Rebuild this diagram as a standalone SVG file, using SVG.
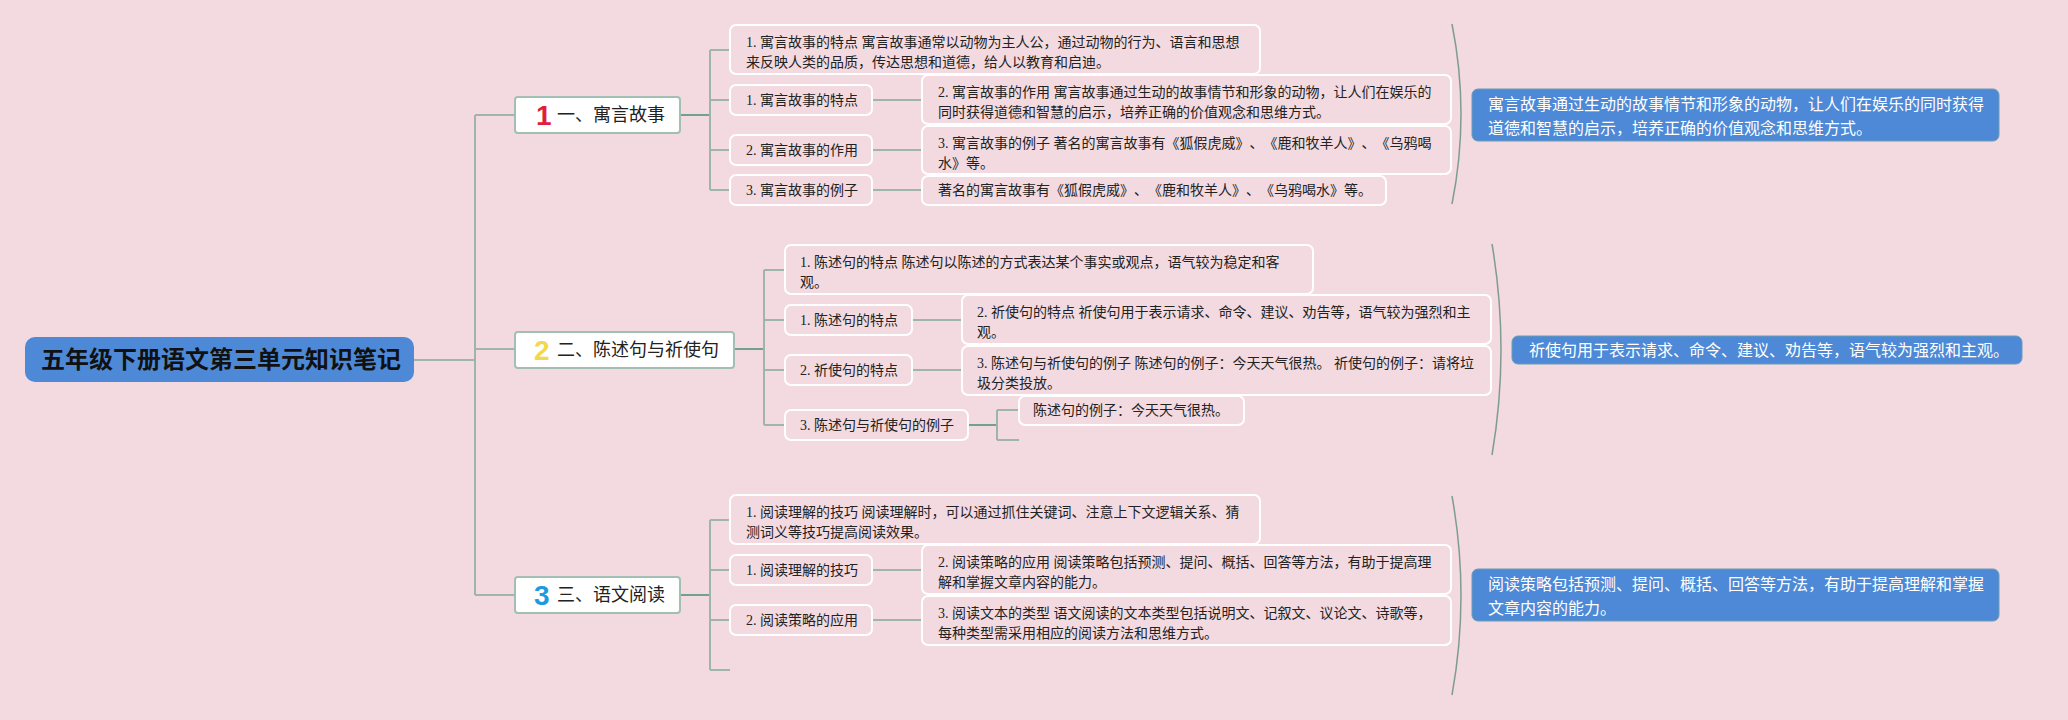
<svg xmlns="http://www.w3.org/2000/svg" width="2068" height="720" viewBox="0 0 2068 720">
<style>
.bg{fill:#f2dae0}
.ln{fill:none;stroke:#9fb4aa;stroke-width:2}
.lnd{fill:none;stroke:#72a193;stroke-width:2}
.br{fill:none;stroke:#7f9c90;stroke-width:1.5}
.cb{fill:none;stroke:#ffffff;stroke-width:2}
.bb{fill:#ffffff;stroke:#a3bfb3;stroke-width:2}
.sb{fill:#4d89d6;stroke:#6a9db3;stroke-width:1}
text{text-spacing-trim:space-all}
.t{font-family:"Liberation Serif","Noto Sans CJK SC",serif;font-size:14px;fill:#222}
.bt{font-family:"Noto Sans CJK SC",sans-serif;font-size:18px;fill:#222}
.st{font-family:"Noto Sans CJK SC",sans-serif;font-size:16px;fill:#ffffff}
.num{font-family:"Liberation Sans","DejaVu Sans",sans-serif;font-size:28px;font-weight:bold}
</style>
<rect class="bg" x="0" y="0" width="2068" height="720"/>

<g id="connectors">
  <path class="ln" d="M414,360 H475 M475,115 V595 M475,115 H515 M475,349 H515 M475,595 H515"/>
  <path class="lnd" d="M680,115 H710 M734,349 H764 M680,595 H710"/>
  <path class="ln" d="M710,50 V190 M710,50 H730 M710,100 H730 M710,150 H730 M710,190 H730"/>
  <path class="ln" d="M872,100 H922 M872,150 H922 M872,190 H922"/>
  <path class="ln" d="M764,270 V425 M764,270 H785 M764,320 H785 M764,370 H785 M764,425 H785"/>
  <path class="ln" d="M912,320 H962 M912,370 H962"/>
  <path class="lnd" d="M968,425 H997"/>
  <path class="ln" d="M997,410 V440 M997,410 H1019 M997,440 H1019"/>
  <path class="ln" d="M710,520 V670 M710,520 H730 M710,570 H730 M710,620 H730 M710,670 H730"/>
  <path class="ln" d="M872,570 H922 M872,620 H922"/>
  <path class="br" d="M1452,24 Q1470,114 1452,204"/>
  <path class="br" d="M1492,244 Q1510,350 1492,455"/>
  <path class="br" d="M1452,496 Q1470,596 1452,695"/>
</g>

<g id="root">
  <rect x="25" y="337" width="389" height="45" rx="10" fill="#4d89d6"/>
  <text x="221" y="368" text-anchor="middle" font-family="'Noto Sans CJK SC',sans-serif" font-size="24" font-weight="bold" fill="#111">五年级下册语文第三单元知识笔记</text>
</g>

<g id="branch1">
  <rect class="bb" x="515" y="97" width="165" height="36" rx="3"/>
  <text class="num" x="536" y="125" fill="#e0203a">1</text>
  <text class="bt" x="557" y="121">一、寓言故事</text>
</g>
<g id="branch2">
  <rect class="bb" x="515" y="332" width="219" height="36" rx="3"/>
  <text class="num" x="534" y="360" fill="#f5d84a">2</text>
  <text class="bt" x="557" y="356">二、陈述句与祈使句</text>
</g>
<g id="branch3">
  <rect class="bb" x="515" y="577" width="165" height="36" rx="3"/>
  <text class="num" x="534" y="605" fill="#1e9ae0">3</text>
  <text class="bt" x="557" y="601">三、语文阅读</text>
</g>

<g id="n1a"><rect class="cb" x="730" y="25" width="530" height="49" rx="6"/>
  <text class="t" x="746" y="47">1. 寓言故事的特点 寓言故事通常以动物为主人公，通过动物的行为、语言和思想</text>
  <text class="t" x="746" y="67">来反映人类的品质，传达思想和道德，给人以教育和启迪。</text></g>
<g id="n1b"><rect class="cb" x="730" y="85" width="142" height="30" rx="6"/>
  <text class="t" x="746" y="105">1. 寓言故事的特点</text></g>
<g id="n1c"><rect class="cb" x="922" y="75" width="529" height="49" rx="6"/>
  <text class="t" x="938" y="97">2. 寓言故事的作用 寓言故事通过生动的故事情节和形象的动物，让人们在娱乐的</text>
  <text class="t" x="938" y="117">同时获得道德和智慧的启示，培养正确的价值观念和思维方式。</text></g>
<g id="n1d"><rect class="cb" x="730" y="135" width="142" height="30" rx="6"/>
  <text class="t" x="746" y="155">2. 寓言故事的作用</text></g>
<g id="n1e"><rect class="cb" x="922" y="126" width="529" height="48" rx="6"/>
  <text class="t" x="938" y="148">3. 寓言故事的例子 著名的寓言故事有《狐假虎威》、《鹿和牧羊人》、《乌鸦喝</text>
  <text class="t" x="938" y="168">水》等。</text></g>
<g id="n1f"><rect class="cb" x="730" y="175" width="142" height="30" rx="6"/>
  <text class="t" x="746" y="195">3. 寓言故事的例子</text></g>
<g id="n1g"><rect class="cb" x="922" y="176" width="464" height="29" rx="6"/>
  <text class="t" x="938" y="195">著名的寓言故事有《狐假虎威》、《鹿和牧羊人》、《乌鸦喝水》等。</text></g>
<g id="s1"><rect class="sb" x="1472" y="89" width="527" height="52" rx="6"/>
  <text class="st" x="1488" y="110">寓言故事通过生动的故事情节和形象的动物，让人们在娱乐的同时获得</text>
  <text class="st" x="1488" y="134">道德和智慧的启示，培养正确的价值观念和思维方式。</text></g>

<g id="n2a"><rect class="cb" x="785" y="245" width="528" height="49" rx="6"/>
  <text class="t" x="800" y="267">1. 陈述句的特点 陈述句以陈述的方式表达某个事实或观点，语气较为稳定和客</text>
  <text class="t" x="800" y="287">观。</text></g>
<g id="n2b"><rect class="cb" x="785" y="305" width="127" height="30" rx="6"/>
  <text class="t" x="800" y="325">1. 陈述句的特点</text></g>
<g id="n2c"><rect class="cb" x="962" y="295" width="529" height="49" rx="6"/>
  <text class="t" x="977" y="317">2. 祈使句的特点 祈使句用于表示请求、命令、建议、劝告等，语气较为强烈和主</text>
  <text class="t" x="977" y="337">观。</text></g>
<g id="n2d"><rect class="cb" x="785" y="355" width="127" height="30" rx="6"/>
  <text class="t" x="800" y="375">2. 祈使句的特点</text></g>
<g id="n2e"><rect class="cb" x="962" y="346" width="529" height="49" rx="6"/>
  <text class="t" x="977" y="368">3. 陈述句与祈使句的例子 陈述句的例子：今天天气很热。 祈使句的例子：请将垃</text>
  <text class="t" x="977" y="388">圾分类投放。</text></g>
<g id="n2f"><rect class="cb" x="785" y="410" width="183" height="30" rx="6"/>
  <text class="t" x="800" y="430">3. 陈述句与祈使句的例子</text></g>
<g id="n2g"><rect class="cb" x="1019" y="396" width="225" height="29" rx="6"/>
  <text class="t" x="1033" y="415">陈述句的例子：今天天气很热。</text></g>
<g id="s2"><rect class="sb" x="1512" y="336" width="510" height="28" rx="6"/>
  <text class="st" x="1529" y="356">祈使句用于表示请求、命令、建议、劝告等，语气较为强烈和主观。</text></g>

<g id="n3a"><rect class="cb" x="730" y="495" width="530" height="49" rx="6"/>
  <text class="t" x="746" y="517">1. 阅读理解的技巧 阅读理解时，可以通过抓住关键词、注意上下文逻辑关系、猜</text>
  <text class="t" x="746" y="537">测词义等技巧提高阅读效果。</text></g>
<g id="n3b"><rect class="cb" x="730" y="555" width="142" height="30" rx="6"/>
  <text class="t" x="746" y="575">1. 阅读理解的技巧</text></g>
<g id="n3c"><rect class="cb" x="922" y="545" width="529" height="49" rx="6"/>
  <text class="t" x="938" y="567">2. 阅读策略的应用 阅读策略包括预测、提问、概括、回答等方法，有助于提高理</text>
  <text class="t" x="938" y="587">解和掌握文章内容的能力。</text></g>
<g id="n3d"><rect class="cb" x="730" y="605" width="142" height="30" rx="6"/>
  <text class="t" x="746" y="625">2. 阅读策略的应用</text></g>
<g id="n3e"><rect class="cb" x="922" y="596" width="529" height="49" rx="6"/>
  <text class="t" x="938" y="618">3. 阅读文本的类型 语文阅读的文本类型包括说明文、记叙文、议论文、诗歌等，</text>
  <text class="t" x="938" y="638">每种类型需采用相应的阅读方法和思维方式。</text></g>
<g id="s3"><rect class="sb" x="1472" y="569" width="527" height="52" rx="6"/>
  <text class="st" x="1488" y="590">阅读策略包括预测、提问、概括、回答等方法，有助于提高理解和掌握</text>
  <text class="st" x="1488" y="614">文章内容的能力。</text></g>
</svg>
